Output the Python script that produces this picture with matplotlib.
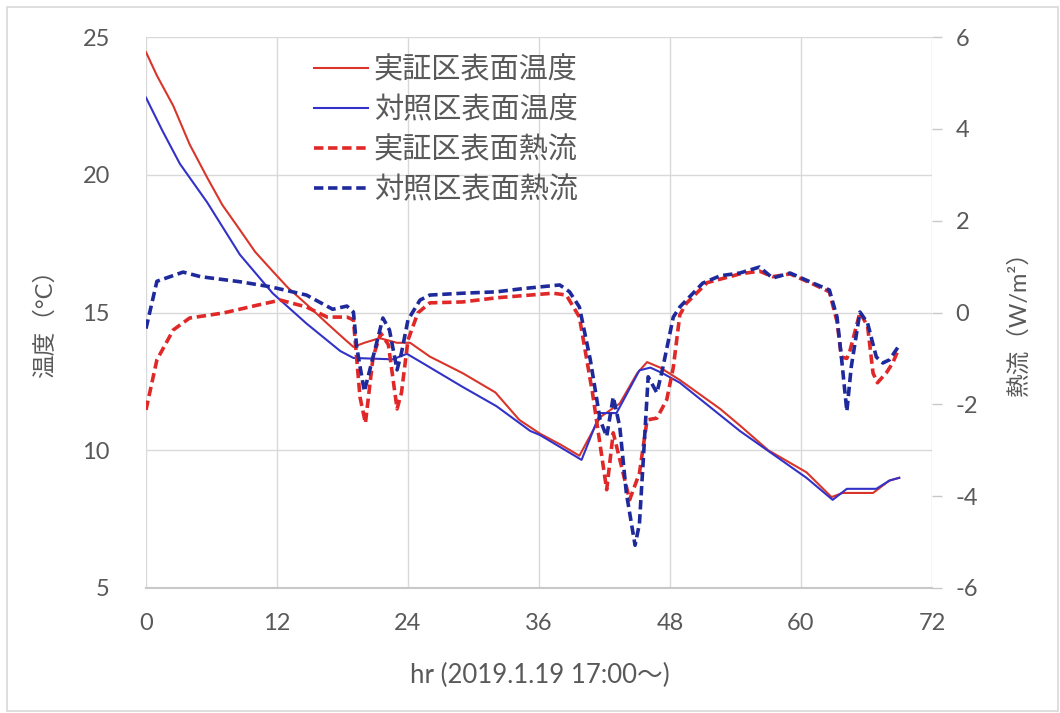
import matplotlib
matplotlib.use("Agg")
import matplotlib.pyplot as plt
from matplotlib.patches import Rectangle

plt.rcParams['font.family'] = ['Lato', 'Noto Sans CJK JP', 'DejaVu Sans']
plt.rcParams['axes.unicode_minus'] = False

# Surface temperature, test plot (°C)
hr_test_temp = [0, 1, 2.5, 4, 5.6, 7, 8.6, 10, 11.6, 13, 14.7, 16.6, 18, 19.0, 20, 21.4,
                23.0, 24.2, 26, 29, 32, 34.2, 36.1, 38, 39.7, 41.6, 43.4, 45, 45.9, 47.1,
                48.9, 52.6, 54.4, 57, 60.5, 62.8, 63.8, 66.6, 68.1, 69]
test_temp = [24.45, 23.6, 22.5, 21.1, 19.9, 18.9, 18.0, 17.2, 16.5, 15.9, 15.3, 14.6, 14.1,
             13.75, 13.9, 14.07, 13.9, 13.9, 13.4, 12.8, 12.1, 11.1, 10.6, 10.2, 9.8, 11.2,
             11.7, 12.8, 13.2, 13.0, 12.55, 11.5, 10.9, 10.0, 9.2, 8.3, 8.45, 8.45, 8.9, 9.0]

# Surface temperature, control plot (°C)
hr_ctrl_temp = [0, 1.5, 3.1, 5.6, 8.6, 11.6, 14.7, 17.8, 19.0, 22.6, 23.9, 25.4, 29, 32.1,
                35.2, 36.1, 39.9, 41.6, 43.1, 45.2, 46.2, 47.3, 48.9, 54.4, 60.5, 62.9,
                64.2, 66.9, 68.1, 69]
ctrl_temp = [22.8, 21.6, 20.4, 19.0, 17.1, 15.7, 14.6, 13.6, 13.35, 13.3, 13.5, 13.15, 12.3,
             11.6, 10.7, 10.55, 9.65, 11.35, 11.35, 12.9, 13.0, 12.8, 12.45, 10.7, 9.0, 8.2,
             8.6, 8.6, 8.9, 9.0]

# Surface heat flux, test plot (W/m2)
hr_test_flux = [0, 1.0, 2.5, 4.0, 7.1, 10.2, 12.3, 14.7, 16.6, 18.4, 19.0, 19.6, 20.1, 20.8,
                21.5, 22.2, 23.0, 23.4, 24.0, 24.9, 26, 29, 32.1, 35.2, 37.3, 38.5, 39.7,
                40.9, 42.2, 42.8, 43.4, 44.3, 45.2, 45.9, 46.8, 47.7, 48.3, 48.9, 49.5, 51.4,
                54.4, 56.2, 57.4, 59, 61.1, 62.6, 63.3, 63.7, 64.2, 64.5, 65.4, 66.1, 66.6,
                67.0, 67.8, 68.4, 68.9]
test_flux = [-2.12, -1.03, -0.38, -0.12, -0.01, 0.16, 0.27, 0.12, -0.1, -0.1, -0.16, -1.84,
             -2.41, -0.97, -0.45, -0.7, -2.1, -1.75, -0.6, -0.01, 0.21, 0.23, 0.32, 0.38,
             0.42, 0.38, -0.1, -1.75, -3.86, -2.62, -3.2, -4.08, -3.5, -2.34, -2.3, -1.9,
             -1.2, -0.05, 0.2, 0.65, 0.84, 0.9, 0.78, 0.84, 0.62, 0.45, -0.2, -0.97, -1.0,
             -0.82, 0.0, -0.3, -1.32, -1.53, -1.32, -1.1, -0.82]

# Surface heat flux, control plot (W/m2)
hr_ctrl_flux = [0, 1.0, 3.4, 5.0, 8.6, 11.4, 14.7, 17.1, 18.4, 19.0, 19.3, 20.0, 20.8, 21.7,
                22.3, 23.0, 23.4, 24.0, 25.1, 26, 29, 32.1, 34.5, 37.9, 38.8, 39.7, 40.7,
                41.6, 42.2, 42.8, 43.4, 44.0, 44.8, 45.2, 45.7, 46.0, 46.8, 47.3, 48.3, 48.9,
                51, 52.6, 54.4, 56.2, 57.4, 59, 61.1, 62.6, 63.3, 63.7, 64.2, 64.6, 65.4,
                66.1, 66.9, 67.5, 68.1, 68.9]
ctrl_flux = [-0.35, 0.68, 0.88, 0.78, 0.67, 0.56, 0.38, 0.07, 0.14, 0.01, -0.75, -1.72, -0.97,
             -0.12, -0.38, -1.25, -0.88, -0.16, 0.27, 0.38, 0.42, 0.45, 0.52, 0.6, 0.45, 0.12,
             -1.03, -2.34, -2.7, -1.84, -2.49, -3.93, -5.07, -4.6, -2.62, -1.4, -1.75, -1.25,
             -0.1, 0.12, 0.64, 0.8, 0.86, 0.99, 0.75, 0.86, 0.64, 0.49, -0.1, -0.97, -2.15,
             -1.19, 0.01, -0.23, -0.97, -1.1, -1.03, -0.75]

series_labels = ['実証区表面温度', '対照区表面温度', '実証区表面熱流', '対照区表面熱流']
x_ticks = [0, 12, 24, 36, 48, 60, 72]
temp_ticks = [5, 10, 15, 20, 25]
flux_ticks = [-6, -4, -2, 0, 2, 4, 6]

TEXT = '#595959'
GRID = '#D9D9D9'
C_TEST_T = '#D9352A'
C_CTRL_T = '#3232C8'
C_TEST_F = '#E02828'
C_CTRL_F = '#1E2A9C'

W, H = 1060, 713
fig = plt.figure(figsize=(W / 100, H / 100), dpi=100)
fig.patches.append(Rectangle((7 / W, 2 / H), (W - 9) / W, (H - 9) / H, transform=fig.transFigure,
                             fill=False, edgecolor=GRID, linewidth=1.2))

ax = fig.add_axes([146 / W, 1 - 588 / H, (932 - 146) / W, (588 - 37) / H])
ax2 = ax.twinx()

ax.set_xlim(0, 72)
ax.set_ylim(5, 25)
ax2.set_ylim(-6, 6)
ax.set_xticks(x_ticks)
ax.set_yticks(temp_ticks)
ax2.set_yticks(flux_ticks)

ax.grid(True, color=GRID, linewidth=1.0)
ax.set_axisbelow(True)
for a in (ax, ax2):
    for s in ('top', 'left', 'right'):
        a.spines[s].set_visible(False)
ax2.spines['bottom'].set_visible(False)
ax.spines['bottom'].set_color('#C8C8C8')
ax.spines['bottom'].set_linewidth(1.5)

ax.tick_params(axis='x', length=0, pad=18, labelsize=17, labelcolor=TEXT)
ax.tick_params(axis='y', length=0, pad=26, labelsize=17, labelcolor=TEXT)
ax2.tick_params(axis='y', length=7, width=1, color='#C8C8C8', pad=10, labelsize=17,
                labelcolor=TEXT)

l1, = ax.plot(hr_test_temp, test_temp, color=C_TEST_T, lw=1.5, zorder=3)
l2, = ax.plot(hr_ctrl_temp, ctrl_temp, color=C_CTRL_T, lw=1.5, zorder=3)
l3, = ax2.plot(hr_test_flux, test_flux, color=C_TEST_F, lw=2.6, dashes=(2.6, 1.3), zorder=4)
l4, = ax2.plot(hr_ctrl_flux, ctrl_flux, color=C_CTRL_F, lw=2.6, dashes=(2.6, 1.3), zorder=5)

leg = ax2.legend([l1, l2, l3, l4], series_labels, loc='upper left',
                 bbox_to_anchor=((314 - 146) / (932 - 146), 1 - (56 - 37) / (588 - 37)),
                 frameon=False, fontsize=21, handlelength=1.85, handletextpad=0.2,
                 labelspacing=0.42, borderaxespad=0, borderpad=0)
for t in leg.get_texts():
    t.set_color(TEXT)

fig.text(45 / W, 1 - 318 / H, '温度（°C）', rotation=90, ha='center', va='center',
         fontsize=17, color=TEXT)
fig.text(1018 / W, 1 - 318 / H, '熱流（W/m²）', rotation=90, ha='center', va='center',
         fontsize=17, color=TEXT)
fig.text(540 / W, 1 - 675 / H, 'hr (2019.1.19 17:00～)', ha='center', va='center',
         fontsize=18.5, color=TEXT)

fig.savefig('out.png', dpi=100)
